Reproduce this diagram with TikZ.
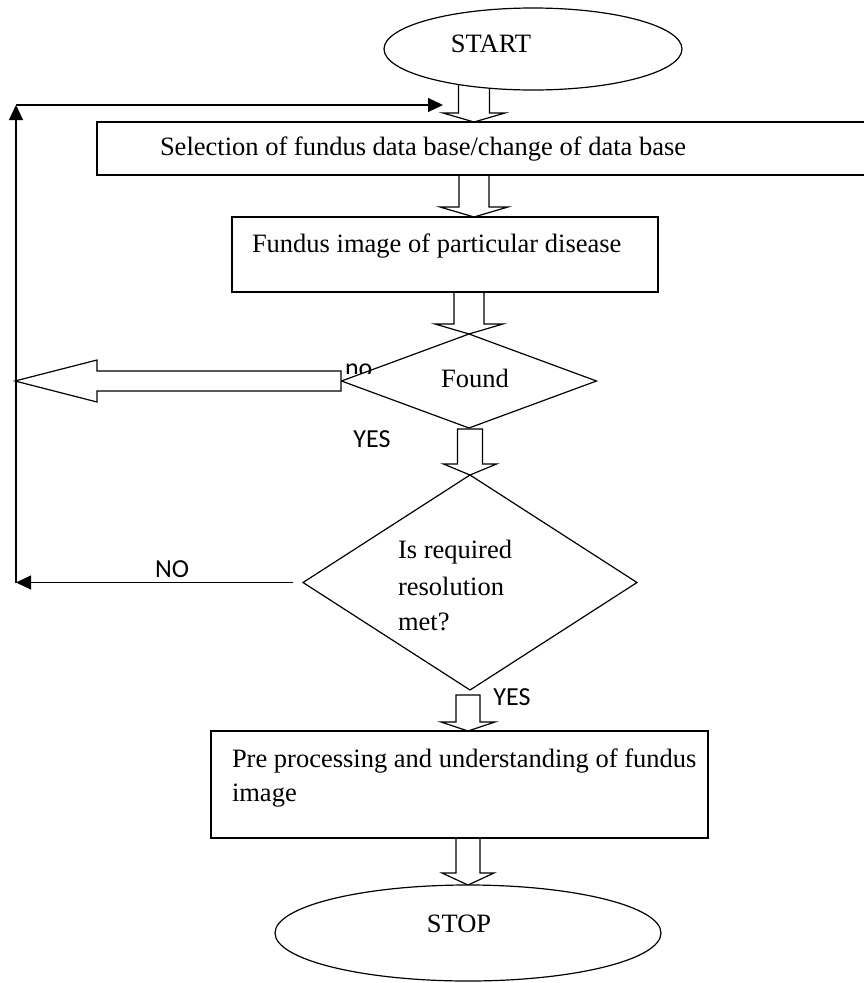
\documentclass[tikz,border=0pt]{standalone}
\usepackage{fontspec}
\setmainfont{Liberation Serif}
\newfontfamily\calibfont{Carlito}
\usetikzlibrary{shapes.geometric,arrows.meta,backgrounds,calc}
% block arrow pointing down: #1 tip, #2 total length, #3 head length, #4 stem half width, #5 head half width
\newcommand\downblock[5]{%
  \draw[barrow] (#1) -- ++({-#5},{-#3}) -- ++({#5-#4},0) -- ++(0,{-(#2-#3)})
    -- ++({2*#4},0) -- ++(0,{#2-#3}) -- ++({#5-#4},0) -- cycle;}
\begin{document}
\begin{tikzpicture}[x=1pt,y=-1pt,
  every node/.style={inner sep=0pt, outer sep=0pt},
  shapeline/.style={draw=black, line width=1.2pt, fill=white},
  term/.style={shapeline, ellipse},
  procbox/.style={shapeline, rectangle},
  decision/.style={shapeline, diamond},
  txt/.style={font=\fontsize{26.5}{32}\selectfont, anchor=base west},
  sanslbl/.style={font=\calibfont\fontsize{26}{32}\selectfont, anchor=base},
  conn/.style={line width=1.2pt, -{Triangle[length=15pt,width=14pt]}},
  barrow/.style={draw=black, fill=white, line width=1.2pt, line join=miter}]
\useasboundingbox (0,0) rectangle (864,983);

% shapes
\node[term, minimum width=298pt, minimum height=82pt] (start) at (533,49) {};
\node[procbox, minimum width=783pt, minimum height=53pt] (b1) at (488.5,148.5) {};
\node[procbox, minimum width=426pt, minimum height=75pt] (b2) at (445,254.5) {};
\node[decision, minimum width=255pt, minimum height=94pt] (d1) at (469,381) {};
\node[decision, minimum width=334pt, minimum height=215pt] (d2) at (470,582.5) {};
\node[procbox, minimum width=497pt, minimum height=107pt] (b3) at (459.5,784.5) {};
\node[term, minimum width=386pt, minimum height=96pt] (stop) at (468,933) {};

% texts
\node[font=\fontsize{26.5}{32}\selectfont, anchor=base] (startlbl) at (491,52) {START};
\node[txt] (b1t) at (160,155) {Selection of fundus data base/change of data base};
\node[txt] (b2t) at (252,252) {Fundus image of particular disease};
\node[font=\fontsize{26.5}{32}\selectfont, anchor=base] (d1t) at (475,387) {Found};
\node[txt] (d2ta) at (398,558) {Is required};
\node[txt] (d2tb) at (398,595) {resolution};
\node[txt] (d2tc) at (398,630) {met?};
\node[txt] (b3ta) at (232,767) {Pre processing and understanding of fundus};
\node[txt] (b3tb) at (232,801) {image};
\node[font=\fontsize{26.5}{32}\selectfont, anchor=base] (stoplbl) at (459,932) {STOP};

% labels
\begin{scope}
  \clip (330,340) rectangle (400,373);
  \node[sanslbl, anchor=base west] (nolbl) at (345,376) {no};
\end{scope}
\node[sanslbl] (yes1) at (372,447) {YES};
\node[sanslbl] (nolbl2) at (172,577) {NO};
\node[sanslbl] (yes2) at (512,705) {YES};

% block arrows (behind shapes)
\coordinate (t1) at (474,0 |- b1.north);
\coordinate (t2) at (474,0 |- b2.north);
\coordinate (t5) at (468,0 |- b3.north);
\coordinate (t6) at (468,0 |- stop.north);
\begin{pgfonlayer}{background}
  \downblock{t1}{42}{9}{15.5}{31}
  \downblock{t2}{44}{10}{15}{34}
  \downblock{d1.north}{44}{10}{15}{34}
  \downblock{d2.north}{46}{11}{12.5}{26.5}
  \downblock{t5}{36}{9}{12}{27}
  \downblock{t6}{49}{12}{12}{26}
\end{pgfonlayer}

% left block arrow from Found (no)
\coordinate (lt) at (15,0 |- d1.west);
\draw[barrow] (lt) -- ++(82,-21) -- ++(0,11) -- ++(244,0) -- ++(0,20)
  -- ++(-244,0) -- ++(0,11) -- cycle;

% feedback line from second decision
\coordinate (n0) at ($(d2.west)+(-10,0)$);
\coordinate (c1) at (16,0 |- d2.west);
\coordinate (c2) at (16,105);
\coordinate (c3) at (443,105);
\draw[conn] (n0) -- (c1);
\draw[conn] (c1) -- (c2);
\draw[conn] (c2) -- (c3);
\end{tikzpicture}
\end{document}
